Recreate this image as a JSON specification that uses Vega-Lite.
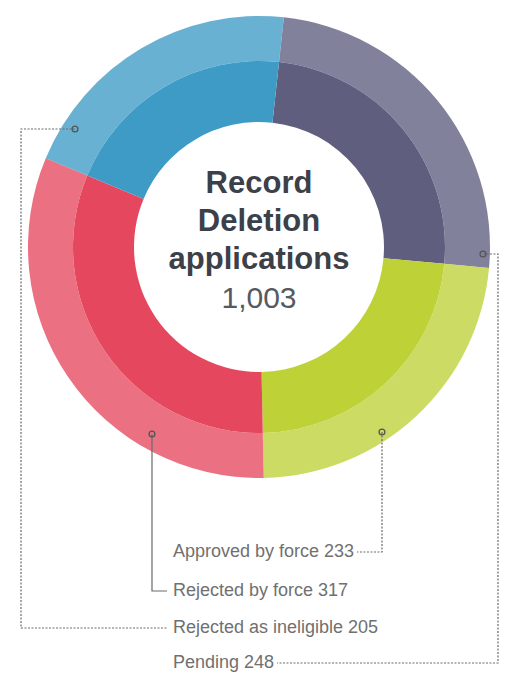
{
  "$schema": "https://vega.github.io/schema/vega-lite/v6.json",
  "width": 509,
  "height": 685,
  "autosize": {"type": "fit", "contains": "padding"},
  "padding": 0,
  "background": "white",
  "config": {"view": {"stroke": null}},
  "datasets": {
    "apps": [
      {"category": "Pending", "value": 248, "order": 1},
      {"category": "Approved by force", "value": 233, "order": 2},
      {"category": "Rejected by force", "value": 317, "order": 3},
      {"category": "Rejected as ineligible", "value": 205, "order": 4}
    ],
    "leaders": [
      {"id": "A", "seq": 0, "x": 0.5325, "y": -0.8009},
      {"id": "A", "seq": 1, "x": 0.5325, "y": -1.3203},
      {"id": "A", "seq": 2, "x": 0.4242, "y": -1.3203},
      {"id": "R", "seq": 0, "x": -0.4632, "y": -0.8095},
      {"id": "R", "seq": 1, "x": -0.4632, "y": -1.4892},
      {"id": "R", "seq": 2, "x": -0.3983, "y": -1.4892},
      {"id": "I", "seq": 0, "x": -0.7965, "y": 0.5108},
      {"id": "I", "seq": 1, "x": -1.0303, "y": 0.5108},
      {"id": "I", "seq": 2, "x": -1.0303, "y": -1.6494},
      {"id": "I", "seq": 3, "x": -0.3983, "y": -1.6494},
      {"id": "P", "seq": 0, "x": 0.9697, "y": -0.0303},
      {"id": "P", "seq": 1, "x": 1.0346, "y": -0.0303},
      {"id": "P", "seq": 2, "x": 1.0346, "y": -1.8009},
      {"id": "P", "seq": 3, "x": 0.0779, "y": -1.8009}
    ],
    "labelpos": [
      {"category": "Approved by force", "lx": -0.3723, "ly": -1.3203},
      {"category": "Rejected by force", "lx": -0.3723, "ly": -1.4892},
      {"category": "Rejected as ineligible", "lx": -0.3723, "ly": -1.6494},
      {"category": "Pending", "lx": -0.3723, "ly": -1.8009}
    ]
  },
  "layer": [
    {
      "data": {"name": "apps"},
      "mark": {"type": "arc", "radius": 231, "radius2": 186, "opacity": 0.78},
      "encoding": {
        "x": {"datum": 0, "type": "quantitative", "scale": {"domain": [-1.1212, 1.0823], "nice": false, "zero": false}, "axis": null},
        "y": {"datum": 0, "type": "quantitative", "scale": {"domain": [-1.8961, 1.0693], "nice": false, "zero": false}, "axis": null},
        "theta": {"field": "value", "type": "quantitative", "stack": true, "scale": {"range": [0.108, 6.3912]}},
        "order": {"field": "order", "type": "quantitative"},
        "color": {"field": "category", "type": "nominal", "legend": null,
          "scale": {"domain": ["Pending", "Approved by force", "Rejected by force", "Rejected as ineligible"],
                    "range": ["#5f5e7f", "#bed137", "#e5485e", "#3e9bc6"]}}
      }
    },
    {
      "data": {"name": "apps"},
      "mark": {"type": "arc", "radius": 186, "radius2": 125},
      "encoding": {
        "x": {"datum": 0, "type": "quantitative", "scale": {"domain": [-1.1212, 1.0823], "nice": false, "zero": false}, "axis": null},
        "y": {"datum": 0, "type": "quantitative", "scale": {"domain": [-1.8961, 1.0693], "nice": false, "zero": false}, "axis": null},
        "theta": {"field": "value", "type": "quantitative", "stack": true, "scale": {"range": [0.108, 6.3912]}},
        "order": {"field": "order", "type": "quantitative"},
        "color": {"field": "category", "type": "nominal", "legend": null,
          "scale": {"domain": ["Pending", "Approved by force", "Rejected by force", "Rejected as ineligible"],
                    "range": ["#5f5e7f", "#bed137", "#e5485e", "#3e9bc6"]}}
      }
    },
    {
      "data": {"name": "leaders"},
      "transform": [{"filter": "datum.id !== 'R'"}],
      "mark": {"type": "line", "color": "#6a6a6a", "strokeWidth": 1.2, "strokeDash": [2, 1.5], "interpolate": "linear"},
      "encoding": {
        "x": {"field": "x", "type": "quantitative", "scale": {"domain": [-1.1212, 1.0823], "nice": false, "zero": false}, "axis": null},
        "y": {"field": "y", "type": "quantitative", "scale": {"domain": [-1.8961, 1.0693], "nice": false, "zero": false}, "axis": null},
        "detail": {"field": "id", "type": "nominal"},
        "order": {"field": "seq", "type": "quantitative"}
      }
    },
    {
      "data": {"name": "leaders"},
      "transform": [{"filter": "datum.id === 'R'"}],
      "mark": {"type": "line", "color": "#6a6a6a", "strokeWidth": 1.2, "interpolate": "linear"},
      "encoding": {
        "x": {"field": "x", "type": "quantitative", "scale": {"domain": [-1.1212, 1.0823], "nice": false, "zero": false}, "axis": null},
        "y": {"field": "y", "type": "quantitative", "scale": {"domain": [-1.8961, 1.0693], "nice": false, "zero": false}, "axis": null},
        "detail": {"field": "id", "type": "nominal"},
        "order": {"field": "seq", "type": "quantitative"}
      }
    },
    {
      "data": {"name": "leaders"},
      "transform": [{"filter": "datum.seq === 0"}],
      "mark": {"type": "point", "filled": false, "size": 34, "stroke": "#555555", "strokeWidth": 1.3, "opacity": 1},
      "encoding": {
        "x": {"field": "x", "type": "quantitative", "scale": {"domain": [-1.1212, 1.0823], "nice": false, "zero": false}, "axis": null},
        "y": {"field": "y", "type": "quantitative", "scale": {"domain": [-1.8961, 1.0693], "nice": false, "zero": false}, "axis": null}
      }
    },
    {
      "data": {"name": "apps"},
      "transform": [
        {"lookup": "category", "from": {"data": {"name": "labelpos"}, "key": "category", "fields": ["lx", "ly"]}},
        {"calculate": "datum.category + ' ' + datum.value", "as": "text"}
      ],
      "mark": {"type": "text", "align": "left", "baseline": "middle", "font": "Liberation Sans", "fontSize": 18, "color": "#707070"},
      "encoding": {
        "x": {"field": "lx", "type": "quantitative", "scale": {"domain": [-1.1212, 1.0823], "nice": false, "zero": false}, "axis": null},
        "y": {"field": "ly", "type": "quantitative", "scale": {"domain": [-1.8961, 1.0693], "nice": false, "zero": false}, "axis": null},
        "text": {"field": "text", "type": "nominal"}
      }
    },
    {
      "data": {"values": [{}]},
      "mark": {"type": "text", "align": "center", "baseline": "alphabetic", "font": "Liberation Sans", "fontSize": 31, "fontWeight": "bold", "color": "#3b4049", "lineHeight": 38,
        "text": ["Record", "Deletion", "applications"]},
      "encoding": {
        "x": {"datum": 0, "type": "quantitative", "scale": {"domain": [-1.1212, 1.0823], "nice": false, "zero": false}, "axis": null},
        "y": {"datum": 0.2338, "type": "quantitative", "scale": {"domain": [-1.8961, 1.0693], "nice": false, "zero": false}, "axis": null}
      }
    },
    {
      "data": {"name": "apps"},
      "transform": [{"aggregate": [{"op": "sum", "field": "value", "as": "total"}]}],
      "mark": {"type": "text", "align": "center", "baseline": "alphabetic", "font": "Liberation Sans", "fontSize": 30, "color": "#555a60"},
      "encoding": {
        "x": {"datum": 0, "type": "quantitative", "scale": {"domain": [-1.1212, 1.0823], "nice": false, "zero": false}, "axis": null},
        "y": {"datum": -0.264, "type": "quantitative", "scale": {"domain": [-1.8961, 1.0693], "nice": false, "zero": false}, "axis": null},
        "text": {"field": "total", "type": "quantitative", "format": ","}
      }
    }
  ]
}
